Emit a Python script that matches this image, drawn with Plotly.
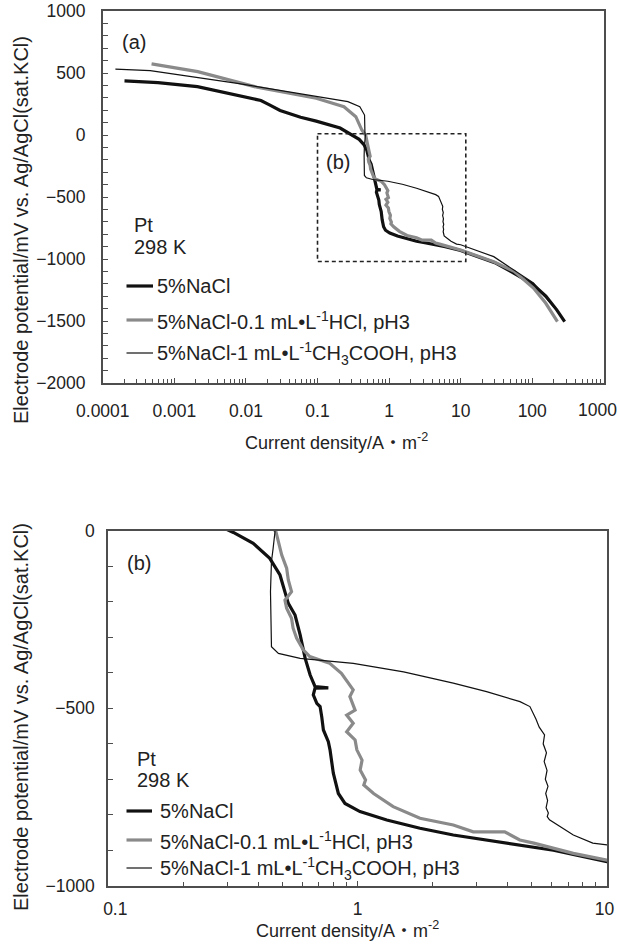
import plotly.graph_objects as go

# ---------------- data ----------------
nacl_x = [0.000201, 0.00059, 0.0021, 0.0097, 0.0162, 0.021, 0.03, 0.058, 0.096, 0.207, 0.318,
          0.382, 0.445, 0.489, 0.512, 0.528, 0.562, 0.589, 0.617, 0.646, 0.676, 0.764,
          0.676, 0.665, 0.687, 0.708, 0.719, 0.730, 0.764, 0.776, 0.800, 0.838, 0.891,
          1.023, 1.31, 1.78, 2.42, 3.29, 4.48, 6.1, 10, 30, 50, 100, 155, 220, 284]
nacl_y = [436, 423, 390, 309, 278, 245, 198, 143, 112, 56, -4,
          -35, -77, -124, -171, -204, -237, -293, -359, -406, -439, -442,
          -443, -462, -486, -495, -524, -561, -594, -617, -683, -740, -768,
          -791, -815, -838, -857, -871, -885, -900, -932, -1030, -1100, -1200, -1300, -1410, -1505]

hcl_x = [0.00048, 0.00212, 0.0143, 0.096, 0.234, 0.343, 0.416, 0.471, 0.497, 0.520,
         0.528, 0.544, 0.512, 0.520, 0.544, 0.552, 0.570, 0.606, 0.644, 0.774, 0.862,
         0.915, 0.961, 0.932, 0.961, 0.978, 0.905, 0.961, 0.905, 0.978, 0.994, 1.043,
         1.025, 1.077, 1.060, 1.16, 1.39, 1.78, 2.42, 2.91, 3.89, 4.47, 5.09, 7.33, 10,
         29, 56, 104, 154, 225]
hcl_y = [573, 511, 385, 296, 228, 148, 40, -2, -68, -105,
         -138, -171, -195, -218, -246, -274, -302, -335, -354, -373, -401,
         -425, -448, -467, -490, -505, -519, -542, -566, -589, -617, -646,
         -674, -702, -716, -740, -777, -810, -829, -848, -848, -871, -880, -909, -928,
         -1022, -1100, -1234, -1355, -1505]

acid_x = [0.00015, 0.00046, 0.0076, 0.096, 0.266, 0.39, 0.454, 0.46, 0.467, 0.459,
          0.452, 0.448, 0.452, 0.452, 0.482, 0.589, 0.962, 1.53, 2.42, 3.29, 4.48,
          4.91, 5.19, 5.35, 5.62, 5.55, 5.72, 5.6, 5.75, 5.66, 5.8, 5.68, 5.78, 5.7, 5.82,
          5.76, 5.88, 6.82, 7.33, 8.77, 10, 29, 104, 200, 282]
acid_y = [532, 519, 417, 309, 269, 228, 161, 13, -2, -49,
          -86, -171, -265, -326, -345, -359, -373, -397, -429, -453, -481,
          -495, -530, -553, -575, -600, -625, -650, -675, -700, -720, -740, -760, -780, -795,
          -805, -814, -843, -857, -880, -885, -981, -1194, -1385, -1500]

# zoom window (b) drawn on panel (a)
box_x = [0.1, 11.8, 11.8, 0.1, 0.1]
box_y = [10, 10, -1020, -1020, 10]

series_names = ["5%NaCl",
                "5%NaCl-0.1 mL\u2022L<sup>-1</sup>HCl, pH3",
                "5%NaCl-1 mL\u2022L<sup>-1</sup>CH<sub>3</sub>COOH, pH3"]

top_xticks = [1e-4, 1e-3, 1e-2, 1e-1, 1, 10, 100, 1000]
top_xlabels = ["0.0001", "0.001", "0.01", "0.1", "1", "10", "100", ""]
top_last_label = "1000"   # drawn as text, nudged inside the page edge
bot_xticks = [0.1, 1, 10]
bot_xlabels = ["&nbsp;&nbsp;&nbsp;0.1", "1", "10&nbsp;"]

x_title = "Current density/A\u30FBm<sup>-2</sup>"
y_title = "Electrode potential/mV vs. Ag/AgCl(sat.KCl)"

# ---------------- styling ----------------
W, H = 620, 948
FONT = "Liberation Sans, Arial, Noto Sans CJK JP, sans-serif"
AX = "#4d4d4d"
styles = [dict(color="#111111", width=3.2),
          dict(color="#8a8a8a", width=3.2),
          dict(color="#111111", width=1.2)]

def px_x(p):
    return p / W

def px_y(p):
    return 1 - p / H

fig = go.Figure()
data = [(nacl_x, nacl_y), (hcl_x, hcl_y), (acid_x, acid_y)]
for ax_pair in [("x", "y"), ("x2", "y2")]:
    for (xs, ys), st, nm in zip(data, styles, series_names):
        fig.add_trace(go.Scatter(x=xs, y=ys, mode="lines", line=st, name=nm,
                                 showlegend=False, xaxis=ax_pair[0], yaxis=ax_pair[1]))
fig.add_trace(go.Scatter(x=box_x, y=box_y, mode="lines",
                         line=dict(color="#222222", width=1.6, dash="4px,3px"),
                         showlegend=False, xaxis="x", yaxis="y"))

common_axis = dict(showline=True, mirror=True, linecolor=AX, linewidth=1.6,
                   showgrid=False, zeroline=False, ticks="inside", tickcolor=AX,
                   ticklen=5, tickwidth=1, automargin=False, ticklabeloverflow="allow",
                   tickfont=dict(family=FONT, size=17.5, color="#222222"))

fig.update_layout(
    width=W, height=H, margin=dict(l=0, r=0, t=0, b=0),
    paper_bgcolor="white", plot_bgcolor="white",
    xaxis=dict(common_axis, type="log", range=[-4, 3],
               domain=[px_x(102.8), px_x(603.8)], anchor="y",
               tickmode="array", tickvals=top_xticks, ticktext=top_xlabels,
               minor=dict(ticks="inside", dtick="D1", ticklen=4, tickcolor=AX, showgrid=False),
               ticklabelstandoff=11),
    yaxis=dict(common_axis, range=[-2000, 1000], domain=[px_y(383), px_y(11)], anchor="x",
               dtick=500, tick0=0, minor=dict(ticks="inside", dtick=100, ticklen=5, tickcolor=AX),
               ticklabelstandoff=12),
    xaxis2=dict(common_axis, type="log", range=[-1, 1],
                domain=[px_x(108), px_x(607)], anchor="y2",
                tickmode="array", tickvals=bot_xticks, ticktext=bot_xlabels,
                minor=dict(ticks="inside", dtick="D1", ticklen=4, tickcolor=AX, showgrid=False),
                ticklabelstandoff=6),
    yaxis2=dict(common_axis, range=[-1000, 0], domain=[px_y(885.7), px_y(531)], anchor="x2",
                dtick=500, tick0=0, minor=dict(ticks="inside", dtick=100, ticklen=5, tickcolor=AX),
                ticklabelstandoff=8),
)

annos = []
def txt(text, x, y, size=20, xanchor="left", angle=0):
    annos.append(dict(text=text, x=px_x(x), y=px_y(y), xref="paper", yref="paper",
                      xanchor=xanchor, yanchor="middle", showarrow=False, textangle=angle,
                      font=dict(family=FONT, size=size, color="#222222")))

# last tick label of panel (a)
txt(top_last_label, 597, 410, size=17.5, xanchor="center")

# axis titles
txt(x_title, 336, 441, size=18, xanchor="center")
txt(y_title, 21, 230, size=20, xanchor="center", angle=-90)
txt(x_title, 347, 929, size=18, xanchor="center")
txt(y_title, 21, 717, size=20, xanchor="center", angle=-90)

# panel labels
txt("(a)", 120, 42)
txt("(b)", 324, 162)
txt("(b)", 125, 563)
txt("Pt", 132, 225)
txt("298 K", 132, 247)
txt("Pt", 135, 759)
txt("298 K", 135, 780)

shapes = []
legend_rows = [(126.5, 153, 155, [286, 320, 353]), (126.5, 152, 158, [811, 840, 868])]
for x0, x1, xt, rows in legend_rows:
    for st, nm, ry in zip(styles, series_names, rows):
        shapes.append(dict(type="line", xref="paper", yref="paper",
                           x0=px_x(x0), x1=px_x(x1), y0=px_y(ry), y1=px_y(ry),
                           line=dict(color=st["color"], width=st["width"])))
        txt(nm, xt, ry)

fig.update_layout(annotations=annos, shapes=shapes)
fig.write_html(
    "out.html",
    config={"displayModeBar": False},
    post_script="document.body.style.margin='0';"
                "document.documentElement.style.overflow='hidden';"
                "document.body.style.overflow='hidden';",
)
